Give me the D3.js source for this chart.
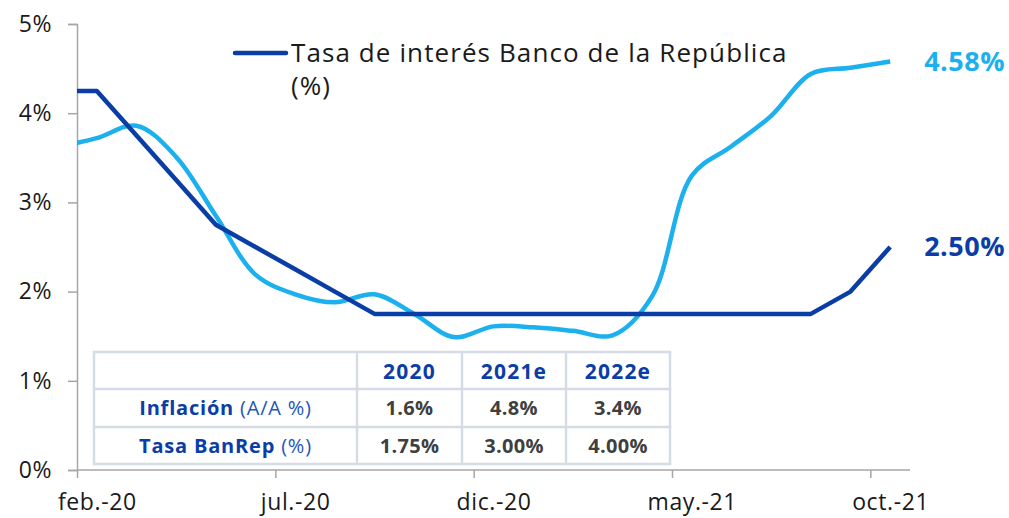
<!DOCTYPE html>
<html>
<head>
<meta charset="utf-8">
<script src="https://cdn.jsdelivr.net/npm/d3@7"></script>
<style>
  body { margin: 0; background: #fff; }
  svg { display: block; font-family: "Open Sans", sans-serif; }
</style>
</head>
<body>
<div id="chart"></div>
<script>
// monthly data, ene.-20 .. oct.-21
const months = ['ene.-20', 'feb.-20', 'mar.-20', 'abr.-20', 'may.-20', 'jun.-20', 'jul.-20', 'ago.-20',
  'sep.-20', 'oct.-20', 'nov.-20', 'dic.-20', 'ene.-21', 'feb.-21', 'mar.-21', 'abr.-21', 'may.-21',
  'jun.-21', 'jul.-21', 'ago.-21', 'sep.-21', 'oct.-21'];
const tasaBanRep = [4.25, 4.25, 3.75, 3.25, 2.75, 2.5, 2.25, 2.0, 1.75, 1.75, 1.75, 1.75, 1.75, 1.75,
  1.75, 1.75, 1.75, 1.75, 1.75, 1.75, 2.0, 2.5];
const inflacion = [3.62, 3.72, 3.86, 3.51, 2.85, 2.19, 1.97, 1.88, 1.97, 1.75, 1.49, 1.61, 1.60, 1.56,
  1.51, 1.95, 3.30, 3.63, 3.97, 4.44, 4.51, 4.58];
const xTickLabels = ['feb.-20', 'jul.-20', 'dic.-20', 'may.-21', 'oct.-21'];
const yTicks = [0, 1, 2, 3, 4, 5];
const tableHeader = ['', '2020', '2021e', '2022e'];
const tableLabels = [['Inflación', '(A/A %)'], ['Tasa BanRep', '(%)']];
const tableValues = [['1.6%', '4.8%', '3.4%'], ['1.75%', '3.00%', '4.00%']];

const W = 1009;
const H = 518;
const DARK = '#0a3ea6';
const LIGHT = '#1cb0ee';

const svg = d3.select('#chart')
  .append('svg')
  .attr('width', W)
  .attr('height', H);

// x: months counted from start of feb.-20, 21 month slots on the axis
const x = d3.scaleLinear().domain([0, 21]).range([77, 910]);
const y = d3.scaleLinear().domain([0, 5]).range([470, 24]);
const half = (x(1) - x(0)) / 2;
const pos = (i) => x(i - 0.5); // centre of month slot (index 0 = ene.-20)

// axes
const yAxis = svg.append('g')
  .attr('transform', `translate(${x(0)},0)`)
  .call(d3.axisLeft(y).tickValues(yTicks).tickFormat((d) => `${d}%`).tickSize(9).tickPadding(16));

const xAxis = svg.append('g')
  .attr('transform', `translate(0,${y(0)})`)
  .call(d3.axisBottom(x).tickValues([0, 5, 10, 15, 20])
    .tickFormat((d, i) => xTickLabels[i]).tickSize(8).tickPadding(18));
xAxis.selectAll('text').attr('x', half);

[yAxis, xAxis].forEach((g) => {
  g.select('.domain').attr('stroke', '#a6a6a6').attr('stroke-width', 1.5);
  g.selectAll('.tick line').attr('stroke', '#a6a6a6').attr('stroke-width', 1.5);
  g.selectAll('text')
    .attr('fill', '#1a1a1a')
    .style('font-size', '23px')
    .style('letter-spacing', '0.6px')
    .style('font-family', '"Open Sans", sans-serif');
});
xAxis.selectAll('text').attr('dy', '0.62em');
xAxis.select('.domain').attr('d', `M${x(0)},0H${x(21)}`);

// clip lines to the plot area
svg.append('clipPath').attr('id', 'plot')
  .append('rect')
  .attr('x', x(0))
  .attr('y', 0)
  .attr('width', x(21) - x(0))
  .attr('height', H);

const lineSmooth = d3.line()
  .x((d, i) => pos(i))
  .y((d) => y(d))
  .curve(d3.curveCatmullRom.alpha(0.5));
const lineStraight = d3.line()
  .x((d, i) => pos(i))
  .y((d) => y(d));

const lines = svg.append('g').attr('clip-path', 'url(#plot)');
lines.append('path')
  .datum(inflacion)
  .attr('d', lineSmooth)
  .attr('fill', 'none')
  .attr('stroke', LIGHT)
  .attr('stroke-width', 4.5)
  .attr('stroke-linejoin', 'round');
lines.append('path')
  .datum(tasaBanRep)
  .attr('d', lineStraight)
  .attr('fill', 'none')
  .attr('stroke', DARK)
  .attr('stroke-width', 4.5)
  .attr('stroke-linejoin', 'round');

// end labels
const last = months.length - 1;
svg.append('text')
  .attr('x', 1005)
  .attr('y', y(inflacion[last]) + 10)
  .attr('text-anchor', 'end')
  .attr('fill', LIGHT)
  .style('font-size', '27px')
  .style('letter-spacing', '0.5px')
  .style('font-weight', 700)
  .text(`${inflacion[last].toFixed(2)}%`);
svg.append('text')
  .attr('x', 1005)
  .attr('y', y(tasaBanRep[last]) + 9)
  .attr('text-anchor', 'end')
  .attr('fill', DARK)
  .style('font-size', '27px')
  .style('letter-spacing', '0.5px')
  .style('font-weight', 700)
  .text(`${tasaBanRep[last].toFixed(2)}%`);

// legend
svg.append('line')
  .attr('x1', 235).attr('x2', 286)
  .attr('y1', 53).attr('y2', 53)
  .attr('stroke', DARK)
  .attr('stroke-width', 4.5)
  .attr('stroke-linecap', 'round');
const leg = svg.append('text')
  .attr('x', 291)
  .attr('y', 62)
  .attr('fill', '#1a1a1a')
  .style('font-size', '26px')
  .style('letter-spacing', '1.1px');
leg.append('tspan').text('Tasa de interés Banco de la República');
leg.append('tspan').attr('x', 291).attr('dy', 33).text('(%)');

// table
const colX = [94, 357, 462, 566, 670];
const rowY = [352, 389, 427, 464];
const table = svg.append('g');
table.append('rect')
  .attr('x', colX[0]).attr('y', rowY[0])
  .attr('width', colX[4] - colX[0]).attr('height', rowY[3] - rowY[0])
  .attr('fill', '#fff');
const gridColor = '#d6dce5';
colX.forEach((cx) => {
  table.append('line')
    .attr('x1', cx).attr('x2', cx)
    .attr('y1', rowY[0]).attr('y2', rowY[3])
    .attr('stroke', gridColor).attr('stroke-width', 2.5);
});
rowY.forEach((ry) => {
  table.append('line')
    .attr('x1', colX[0] - 1.25).attr('x2', colX[4] + 1.25)
    .attr('y1', ry).attr('y2', ry)
    .attr('stroke', gridColor).attr('stroke-width', 2.5);
});
const mid = (a, b) => (a + b) / 2;
tableHeader.forEach((h, j) => {
  if (!h) return;
  table.append('text')
    .attr('x', mid(colX[j], colX[j + 1]))
    .attr('y', mid(rowY[0], rowY[1]) + 8)
    .attr('text-anchor', 'middle')
    .attr('fill', DARK)
    .style('font-size', '21px')
    .style('letter-spacing', '1.2px')
    .style('font-weight', 700)
    .text(h);
});
tableLabels.forEach((lab, r) => {
  const t = table.append('text')
    .attr('x', mid(colX[0], colX[1]))
    .attr('y', mid(rowY[r + 1], rowY[r + 2]) + 7)
    .attr('text-anchor', 'middle')
    .attr('fill', DARK)
    .style('font-size', '20px')
    .style('letter-spacing', '0.8px');
  t.append('tspan').style('font-weight', 700).text(lab[0]);
  t.append('tspan').style('font-weight', 400).attr('fill', '#2456b8').text(` ${lab[1]}`);
  tableValues[r].forEach((v, j) => {
    table.append('text')
      .attr('x', mid(colX[j + 1], colX[j + 2]))
      .attr('y', mid(rowY[r + 1], rowY[r + 2]) + 7)
      .attr('text-anchor', 'middle')
      .attr('fill', '#3f3f3f')
      .style('font-size', '20px')
      .style('letter-spacing', '0.3px')
      .style('font-weight', 700)
      .text(v);
  });
});
</script>
</body>
</html>
